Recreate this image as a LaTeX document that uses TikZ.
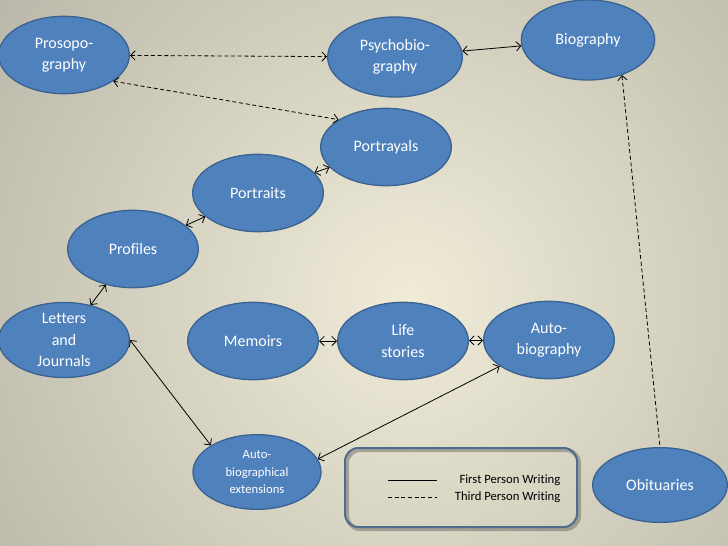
\documentclass[tikz,border=0pt]{standalone}
\usepackage{fontspec}
\setmainfont{Carlito}[Ligatures=NoCommon]
\usetikzlibrary{positioning,shapes.geometric,arrows.meta}

\definecolor{bubblefill}{HTML}{4F81BD}
\definecolor{bubbleline}{HTML}{3B6392}
\definecolor{bginner}{RGB}{240,236,216}
\definecolor{bgouter}{RGB}{128,128,120}
\definecolor{legendline}{HTML}{4D6C8E}

\begin{document}
\begin{tikzpicture}[x=0.75pt, y=-0.75pt,
    bubble/.style={ellipse, draw=bubbleline, line width=1pt, fill=bubblefill,
        text=white, inner sep=0pt, minimum width=98pt, minimum height=58pt,
        align=center, font=\fontsize{12}{16}\selectfont},
    small/.style={font=\fontsize{9.5}{13}\selectfont},
    first/.style={{Straight Barb[length=3.5pt,width=7pt]}-{Straight Barb[length=3.5pt,width=7pt]}, line width=0.6pt},
    third/.style={first, dash pattern=on 3pt off 2pt}]
    % Background
    \useasboundingbox (0,0) rectangle (728,546);
    \begin{scope}
        \clip (0,0) rectangle (728,546);
        \shade[inner color=bginner, outer color=bgouter] (410,300) circle (1060);
    \end{scope}

    % Nodes
    \node (prosopo) [bubble] at (64,55) {Prosopo-\\graphy};
    \node (psycho) [bubble, minimum width=101pt, minimum height=60pt] at (395,57) {Psychobio-\\graphy};
    \node (bio) [bubble, minimum width=100pt, minimum height=60pt] at (588,40) {Biography};
    \node (portrayals) [bubble] at (386,147) {Portrayals};
    \node (portraits) [bubble] at (258,193) {Portraits};
    \node (profiles) [bubble] at (133,249) {Profiles};
    \node (letters) [bubble, minimum height=55pt] at (64,340) {Letters\\and\\Journals};
    \node (memoirs) [bubble] at (253,341) {Memoirs};
    \node (life) [bubble] at (403,341) {Life\\stories};
    \node (auto) [bubble] at (549,340) {Auto-\\biography};
    \node (ext) [bubble, small, minimum width=96pt, minimum height=56pt] at (257,472) {Auto-\\biographical\\extensions};
    \node (obit) [bubble, minimum width=101pt, minimum height=56pt] at (660,485) {Obituaries};

    % Legend
    \draw[black, opacity=0.25, line width=3pt, rounded corners=10pt] (347,450) rectangle (579,529);
    \draw[legendline, line width=1.5pt, rounded corners=10pt] (345,448) rectangle (577,527);
    \node (firstlabel) [small, anchor=east] at (565,480) {First Person Writing};
    \node (thirdlabel) [small, anchor=east] at (565,497) {Third Person Writing};
    \coordinate (solidA) at (388,480);
    \coordinate (solidB) at (437,480);
    \coordinate (dashA) at (388,497);
    \coordinate (dashB) at (437,497);
    \draw[line width=0.6pt] (solidA) -- (solidB);
    \draw[line width=0.6pt, dash pattern=on 3pt off 2pt] (dashA) -- (dashB);

    % Arrows
    \draw[third] (prosopo) -- (psycho);
    \draw[third] (prosopo.-28) -- (portrayals.150);
    \draw[first] (psycho) -- (bio);
    \draw[first] (portrayals) -- (portraits);
    \draw[first] (portraits) -- (profiles);
    \draw[first] (profiles) -- (letters);
    \draw[first] (letters.east) -- (ext.150);
    \draw[first] (memoirs) -- (life);
    \draw[first] (life) -- (auto);
    \draw[first] (auto.208) -- (ext.12);
    \draw[third, {Straight Barb[length=3.5pt,width=7pt]}-] (bio.-46) -- (obit.north);
\end{tikzpicture}
\end{document}
